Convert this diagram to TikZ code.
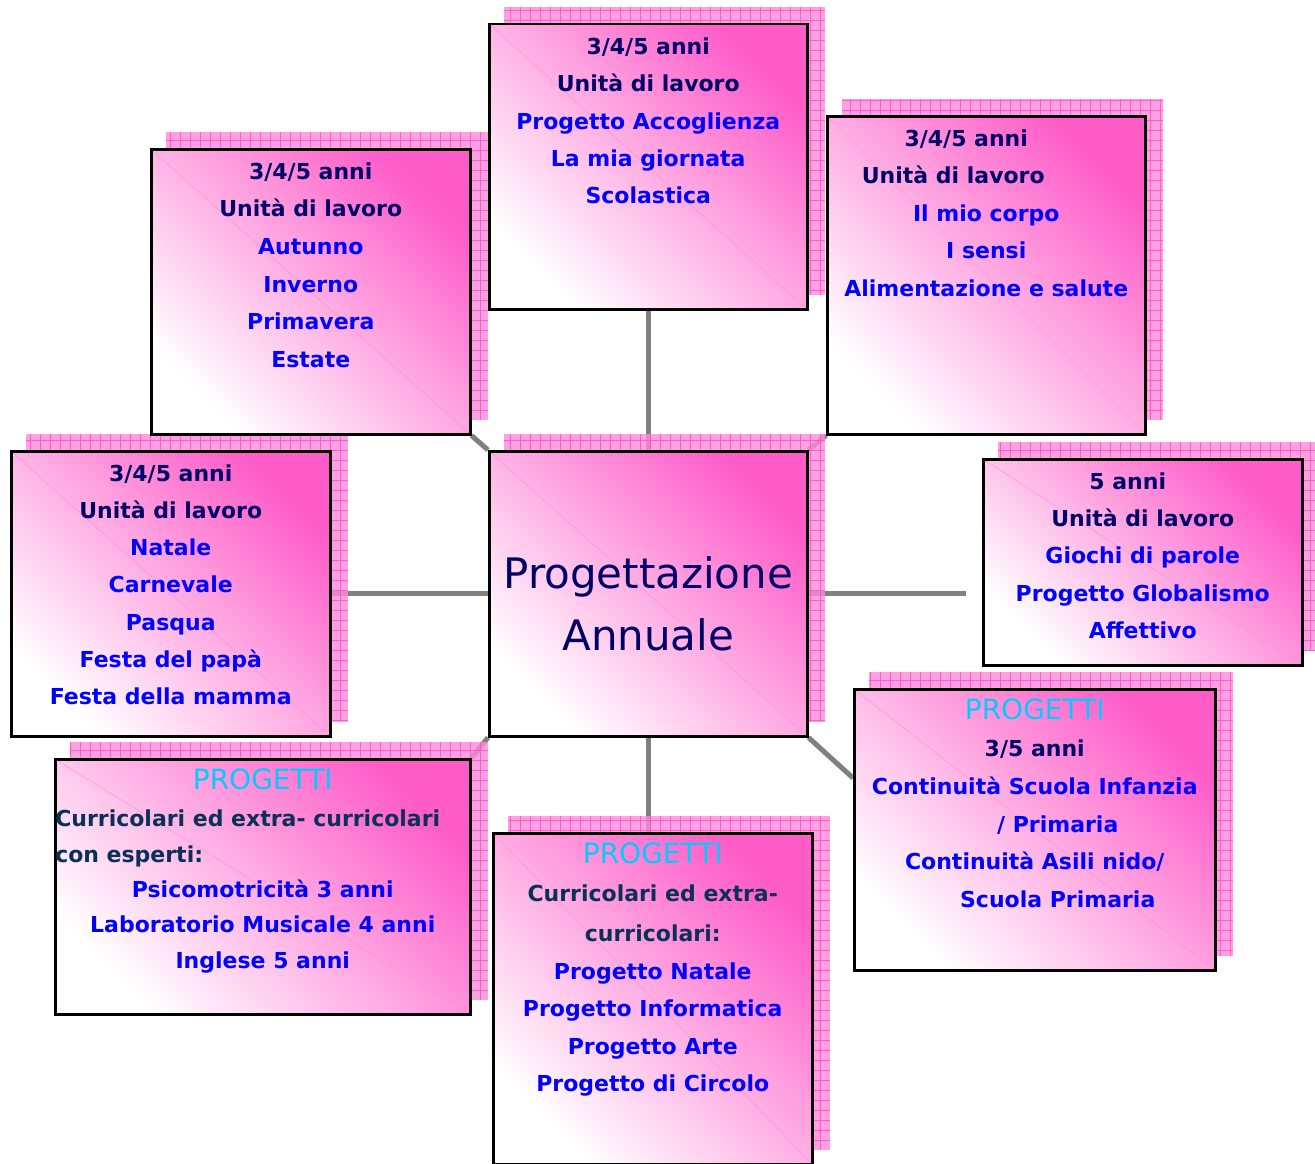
\documentclass[tikz,border=0pt]{standalone}
\usepackage{fontspec}
\setmainfont{DejaVu Sans}
\usetikzlibrary{calc,backgrounds}

\definecolor{rosa}{HTML}{FF5CC8}
\definecolor{rosaombra}{HTML}{FF8ADB}
\definecolor{rosagriglia}{HTML}{FF4CC6}
\definecolor{blunotte}{HTML}{000066}
\definecolor{blu}{HTML}{0000FF}
\definecolor{azzurro}{HTML}{00CCFF}
\definecolor{bluscuro}{HTML}{0A3058}
\definecolor{grigio}{HTML}{808080}

% testo di una scheda: [interlinea]{larghezza}{altezza}{righe}
\newcommand{\contenuto}[4][37.4]{%
  \begin{minipage}[t][#3pt][t]{#2pt}\centering
  \fontsize{22}{#1}\selectfont\bfseries\rule{0pt}{30pt}#4\end{minipage}}
\newcommand{\progetti}{{\fontsize{28}{28}\selectfont\mdseries\color{azzurro}PROGETTI}}

\begin{document}
\begin{tikzpicture}[x=1pt,y=-1pt,
    scheda/.style={anchor=north west, inner sep=0pt, draw=black, line width=2.5pt,
            left color=rosa, middle color=rosa!50!white, right color=white, shading angle=-45,
            path picture={\draw[rosa!70, line width=1pt, opacity=0.5]
                (path picture bounding box.north west) -- (path picture bounding box.south east);}},
    filo/.style={draw=grigio, line width=5pt},
    ombra/.style={fill=rosaombra, opacity=0.8},
    griglia/.style={draw=rosagriglia, line width=0.8pt, opacity=0.8}]
    \useasboundingbox (0,0) rectangle (1315,1164);

    \node[scheda] (centro) at (488,450) {\begin{minipage}[t][285pt][t]{318pt}\centering
        \fontsize{42}{62}\selectfont\color{blunotte}\rule{0pt}{137pt}Progettazione\\Annuale\end{minipage}};

    \node[scheda] (accoglienza) at (488,23) {\contenuto{318}{285}{\color{blunotte}3/4/5 anni\\
        Unità di lavoro\\ \color{blu}Progetto Accoglienza\\ La mia giornata\\ Scolastica}};

    \node[scheda] (stagioni) at (150,148) {\contenuto[37.6]{319}{285}{\color{blunotte}3/4/5 anni\\
        Unità di lavoro\\ \color{blu}Autunno\\ Inverno\\ Primavera\\ Estate}};

    \node[scheda] (corpo) at (826,115) {\contenuto[37.5]{318}{318}{\color{blunotte}3/4/5 anni\rule{40pt}{0pt}\\
        Unità di lavoro\rule{66pt}{0pt}\\ \color{blu}Il mio corpo\\ I sensi\\ Alimentazione e salute}};

    \node[scheda] (feste) at (10,450) {\contenuto[37.2]{319}{285}{\color{blunotte}3/4/5 anni\\
        Unità di lavoro\\ \color{blu}Natale\\ Carnevale\\ Pasqua\\ Festa del papà\\ Festa della mamma}};

    \node[scheda] (parole) at (982,458) {\contenuto[37.3]{319}{206}{\color{blunotte}5 anni\rule{30pt}{0pt}\\
        Unità di lavoro\\ \color{blu}Giochi di parole\\ Progetto Globalismo\\ Affettivo}};

    \node[scheda] (esperti) at (54,758) {\contenuto[35.4]{415}{255}{\progetti\\[2pt]
        \color{bluscuro}\makebox[\linewidth][l]{Curricolari ed extra- curricolari}\\
        \makebox[\linewidth][l]{con esperti:}\\
        \color{blu}Psicomotricità 3 anni\\ Laboratorio Musicale 4 anni\\ Inglese 5 anni}};

    \node[scheda] (arte) at (492,832) {\contenuto[37.6]{319}{331}{\progetti\\[1pt]
        \color{bluscuro}Curricolari ed extra-\\[2pt] curricolari:\\
        \color{blu}Progetto Natale\\ Progetto Informatica\\ Progetto Arte\\ Progetto di Circolo}};

    \node[scheda] (continuita) at (853,688) {\contenuto[37.6]{361}{281}{\progetti\\
        \color{blunotte}3/5 anni\\ \color{blu}Continuità Scuola Infanzia\\
        \hspace*{46pt}/ Primaria\\ Continuità Asili nido/\\ \hspace*{46pt}Scuola Primaria}};

    \begin{scope}[on background layer]
        % collegamenti
        \draw[filo] (centro.north) -- (accoglienza.south);
        \draw[filo] (centro.west) -- (feste.east);
        \draw[filo, shorten >=16pt] (centro.east) -- (centro.east -| parole.west);
        \draw[filo] (centro.north west) -- (stagioni.south east);
        \draw[filo] (centro.north east) -- (corpo.south west);
        \draw[filo] (centro.south west) -- (esperti.north east);
        \draw[filo] (centro.south) -- (centro.south |- arte.north);
        \draw[filo] (centro.south east) -- ($(continuita.north west)+(0,90)$);
        % ombre a griglia
        \foreach \n in {centro,accoglienza,stagioni,corpo,feste,parole,esperti,arte,continuita}{
            \fill[ombra] ($(\n.south west)+(16,-16)$) rectangle ($(\n.north east)+(16,-16)$);
            \draw[griglia, xstep=10pt, ystep=10pt] ($(\n.south west)+(16,-16)$) grid ($(\n.north east)+(16,-16)$);
        }
    \end{scope}
\end{tikzpicture}
\end{document}
